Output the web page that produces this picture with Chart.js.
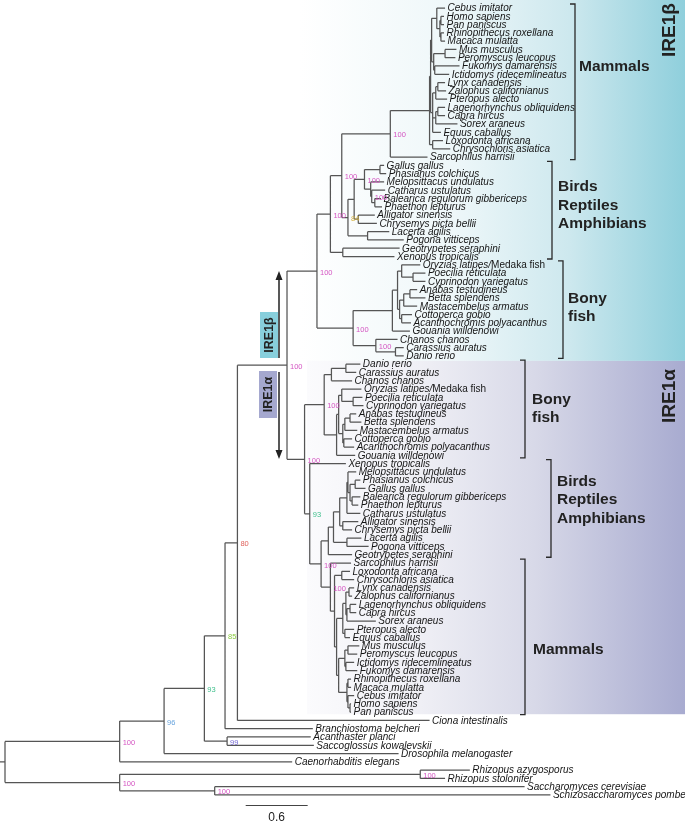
<!DOCTYPE html>
<html>
<head>
<meta charset="utf-8">
<script src="https://cdn.jsdelivr.net/npm/chart.js@4.4.1/dist/chart.umd.min.js"></script>
<style>
  html, body { margin: 0; padding: 0; background: #fff; }
  canvas { display: block; }
</style>
</head>
<body>
<canvas id="chart" width="685" height="825"></canvas>
<script>
// Tree. x = distance from the root (scale bar units).
// leaf: [name, x]    internal node: [x, bootstrap, [children]]
const ire1bMammals = [3.73, "100", [
  [4.11, "", [
    [4.12, "", [
      [4.13, "", [
        [4.18, "", [
          ["Cebus imitator", 4.26],
          [4.21, "", [
            [4.22, "", [["Homo sapiens", 4.25], ["Pan paniscus", 4.25]]],
            [4.22, "", [["Rhinopithecus roxellana", 4.25], ["Macaca mulatta", 4.26]]]
          ]]
        ]],
        [4.15, "", [
          [4.26, "", [["Mus musculus", 4.37], ["Peromyscus leucopus", 4.36]]],
          [4.16, "", [["Fukomys damarensis", 4.40], ["Ictidomys ridecemlineatus", 4.30]]]
        ]]
      ]],
      [4.14, "", [
        [4.17, "", [
          [4.19, "", [["Lynx canadensis", 4.26], ["Zalophus californianus", 4.27]]],
          ["Pteropus alecto", 4.28]
        ]],
        [4.17, "", [
          [4.19, "", [["Lagenorhynchus obliquidens", 4.26], ["Capra hircus", 4.26]]],
          ["Sorex araneus", 4.38]
        ]],
        ["Equus caballus", 4.22]
      ]]
    ]],
    [4.14, "", [["Loxodonta africana", 4.24], ["Chrysochloris asiatica", 4.31]]]
  ]],
  ["Sarcophilus harrisii", 4.09]
]];

const ire1bSauropsids = [3.32, "84", [
  [3.38, "", [
    [3.48, "100", [
      [3.63, "", [["Gallus gallus", 3.67], ["Phasianus colchicus", 3.69]]],
      [3.54, "", [
        ["Melopsittacus undulatus", 3.67],
        [3.55, "100", [
          ["Catharus ustulatus", 3.68],
          [3.58, "", [["Balearica regulorum gibbericeps", 3.64], ["Phaethon lepturus", 3.65]]]
        ]]
      ]]
    ]],
    [3.42, "", [["Alligator sinensis", 3.58], ["Chrysemys picta bellii", 3.60]]]
  ]],
  [3.51, "", [["Lacerta agilis", 3.72], ["Pogona vitticeps", 3.86]]]
]];

const ire1bAmphibians = [3.27, "", [["Geotrypetes seraphini", 3.82], ["Xenopus tropicalis", 3.77]]];

const ire1bFish = [3.37, "100", [
  [3.75, "", [
    [3.80, "", [
      [3.84, "", [
        ["Oryzias latipes/Medaka fish", 4.02],
        [3.95, "", [["Poecilia reticulata", 4.07], ["Cyprinodon variegatus", 4.07]]]
      ]],
      [3.82, "", [
        [3.86, "", [
          [3.92, "", [["Anabas testudineus", 3.99], ["Betta splendens", 4.07]]],
          ["Mastacembelus armatus", 3.99]
        ]],
        [3.84, "", [["Cottoperca gobio", 3.94], ["Acanthochromis polyacanthus", 3.93]]]
      ]]
    ]],
    ["Gouania willdenowi", 3.92]
  ]],
  [3.59, "100", [
    ["Chanos chanos", 3.80],
    [3.78, "", [["Carassius auratus", 3.86], ["Danio rerio", 3.86]]]
  ]]
]];

const ire1aFish = [3.09, "100", [
  [3.16, "", [
    [3.30, "", [["Danio rerio", 3.44], ["Carassius auratus", 3.40]]],
    ["Chanos chanos", 3.36]
  ]],
  [3.21, "", [
    [3.23, "", [
      [3.26, "", [
        ["Oryzias latipes/Medaka fish", 3.45],
        [3.37, "", [["Poecilia reticulata", 3.46], ["Cyprinodon variegatus", 3.47]]]
      ]],
      [3.27, "", [
        [3.29, "", [
          [3.34, "", [["Anabas testudineus", 3.40], ["Betta splendens", 3.45]]],
          ["Mastacembelus armatus", 3.41]
        ]],
        [3.28, "", [["Cottoperca gobio", 3.36], ["Acanthochromis polyacanthus", 3.38]]]
      ]]
    ]],
    ["Gouania willdenowi", 3.39]
  ]]
]];

const ire1aSauropsids = [3.18, "", [
  [3.24, "", [
    [3.31, "", [
      [3.32, "", [
        ["Melopsittacus undulatus", 3.40],
        [3.34, "", [
          [3.39, "", [["Phasianus colchicus", 3.44], ["Gallus gallus", 3.49]]],
          [3.36, "", [["Balearica regulorum gibbericeps", 3.44], ["Phaethon lepturus", 3.42]]]
        ]]
      ]],
      ["Catharus ustulatus", 3.44]
    ]],
    [3.27, "", [["Alligator sinensis", 3.42], ["Chrysemys picta bellii", 3.36]]]
  ]],
  [3.31, "", [["Lacerta agilis", 3.45], ["Pogona vitticeps", 3.52]]]
]];

const ire1aMammals = [3.15, "100", [
  ["Sarcophilus harrisii", 3.35],
  [3.19, "", [
    [3.26, "", [["Loxodonta africana", 3.34], ["Chrysochloris asiatica", 3.38]]],
    [3.21, "", [
      [3.27, "", [
        [3.30, "", [
          [3.33, "", [["Lynx canadensis", 3.38], ["Zalophus californianus", 3.36]]],
          [3.31, "", [
            [3.34, "", [["Lagenorhynchus obliquidens", 3.40], ["Capra hircus", 3.40]]],
            ["Sorex araneus", 3.59]
          ]]
        ]],
        [3.29, "", [["Pteropus alecto", 3.38], ["Equus caballus", 3.34]]]
      ]],
      [3.23, "", [
        [3.29, "", [
          [3.32, "", [["Mus musculus", 3.43], ["Peromyscus leucopus", 3.41]]],
          [3.30, "", [["Ictidomys ridecemlineatus", 3.38], ["Fukomys damarensis", 3.41]]]
        ]],
        [3.31, "", [
          [3.32, "", [["Rhinopithecus roxellana", 3.35], ["Macaca mulatta", 3.35]]],
          [3.32, "", [
            ["Cebus imitator", 3.38],
            [3.34, "", [["Homo sapiens", 3.35], ["Pan paniscus", 3.35]]]
          ]]
        ]]
      ]]
    ]]
  ]]
]];

const ire1b = [3.02, "100", [
  [3.15, "100", [[3.26, "100", [ire1bMammals, ire1bSauropsids]], ire1bAmphibians]],
  ire1bFish
]];

const ire1a = [2.90, "100", [
  ire1aFish,
  [2.95, "93", [
    ["Xenopus tropicalis", 3.30],
    [3.06, "100", [[3.13, "", [ire1aSauropsids, ["Geotrypetes seraphini", 3.36]]], ire1aMammals]]
  ]]
]];

const metazoa = [1.11, "100", [
  [1.54, "96", [
    [1.93, "93", [
      [2.13, "85", [
        [2.25, "80", [
          [2.73, "100", [ire1b, ire1a]],
          ["Ciona intestinalis", 4.11]
        ]],
        ["Branchiostoma belcheri", 2.98]
      ]],
      [2.15, "99", [["Acanthaster planci", 2.96], ["Saccoglossus kowalevskii", 2.99]]]
    ]],
    ["Drosophila melanogaster", 3.81]
  ]],
  ["Caenorhabditis elegans", 2.78]
]];

const fungi = [1.11, "100", [
  [4.02, "100", [["Rhizopus azygosporus", 4.50], ["Rhizopus stolonifer", 4.26]]],
  [2.03, "100", [["Saccharomyces cerevisiae", 5.03], ["Schizosaccharomyces pombe", 5.28]]]
]];

const treeRoot = [0, "", [metazoa, fungi]];
const scaleBarLength = 0.6;

const bootColors = {
  "100": "#d455c2", "99": "#7468d4", "96": "#68a4de", "93": "#3fbf8c",
  "85": "#8ccc42", "84": "#d6b23e", "80": "#df625c"
};

// --- lay the tree out: leaves get consecutive rows, nodes sit midway ---
const segs = [], leaves = [], boots = [];
function build(node, parentX) {
  if (typeof node[0] === "string") {
    const y = leaves.length;
    leaves.push({ name: node[0], x: node[1], y });
    segs.push({ x: parentX, y }, { x: node[1], y }, { x: node[1], y: null });
    return y;
  }
  const [x, boot, kids] = node;
  const ys = kids.map(k => build(k, x));
  const y0 = ys[0], y1 = ys[ys.length - 1], y = (y0 + y1) / 2;
  segs.push({ x, y: y0 }, { x, y: y1 }, { x, y: null });
  segs.push({ x: parentX, y }, { x, y }, { x, y: null });
  if (boot) boots.push({ text: boot, x, y });
  return y;
}
build(treeRoot, -0.05);

// annotation layout (pixels / row units)
const cladeMarks = [
  { from: 0, to: 18, x: 575, dx: 4, textRow: 7.1, lines: ["Mammals"] },
  { from: 19, to: 30, x: 552, dx: 6, textRow: 21.6, lines: ["Birds", "Reptiles", "Amphibians"] },
  { from: 31, to: 42, x: 563, dx: 5, textRow: 35.1, lines: ["Bony", "fish"] },
  { from: 43, to: 54, x: 525, dx: 7, textRow: 47.3, lines: ["Bony", "fish"] },
  { from: 55, to: 66, x: 551, dx: 6, textRow: 57.2, lines: ["Birds", "Reptiles", "Amphibians"] },
  { from: 67, to: 85, x: 525, dx: 8, textRow: 77.5, lines: ["Mammals"] }
];

const decor = {
  id: "decor",
  beforeDatasetsDraw(chart) {
    const ctx = chart.ctx, ys = chart.scales.y;
    const yb = ys.getPixelForValue(42.6), ya = ys.getPixelForValue(85.25);
    ctx.save();
    let g = ctx.createLinearGradient(300, 0, 685, 0);
    g.addColorStop(0, "#ffffff");
    g.addColorStop(0.4, "#eef7f9");
    g.addColorStop(0.7, "#cde8ee");
    g.addColorStop(1, "#8fcfdc");
    ctx.fillStyle = g;
    ctx.fillRect(300, 0, 385, yb);
    g = ctx.createLinearGradient(307, 0, 685, 0);
    g.addColorStop(0, "#fbfbfd");
    g.addColorStop(0.3, "#efeff5");
    g.addColorStop(0.6, "#d8d9e8");
    g.addColorStop(1, "#a8abd0");
    ctx.fillStyle = g;
    ctx.fillRect(307, yb, 378, ya - yb);
    ctx.restore();
  },
  afterDatasetsDraw(chart) {
    const ctx = chart.ctx, xs = chart.scales.x, ys = chart.scales.y;
    ctx.save();
    // leaf names
    ctx.textBaseline = "middle";
    ctx.fillStyle = "#151515";
    leaves.forEach(l => {
      const px = xs.getPixelForValue(l.x) + 2.5, py = ys.getPixelForValue(l.y) + 0.5;
      const parts = l.name.split("/");
      ctx.font = "italic 10px 'Liberation Sans', Arial, sans-serif";
      if (parts.length > 1) {
        const a = parts[0] + "/";
        ctx.fillText(a, px, py);
        const w = ctx.measureText(a).width;
        ctx.font = "10px 'Liberation Sans', Arial, sans-serif";
        ctx.fillText(parts[1], px + w, py);
      } else {
        ctx.fillText(l.name, px, py);
      }
    });
    // bootstrap values
    ctx.font = "7.5px 'Liberation Sans', Arial, sans-serif";
    boots.forEach(b => {
      ctx.fillStyle = bootColors[b.text] || "#d455c2";
      ctx.fillText(b.text, xs.getPixelForValue(b.x) + 3, ys.getPixelForValue(b.y) + 1.5);
    });
    // clade brackets and names
    ctx.strokeStyle = "#2a2a2a";
    ctx.lineWidth = 1.3;
    ctx.fillStyle = "#222";
    ctx.font = "bold 15.5px 'Liberation Sans', Arial, sans-serif";
    cladeMarks.forEach(m => {
      const t = ys.getPixelForValue(m.from) - 4, b = ys.getPixelForValue(m.to) + 2.5;
      ctx.beginPath();
      ctx.moveTo(m.x - 5, t); ctx.lineTo(m.x, t); ctx.lineTo(m.x, b); ctx.lineTo(m.x - 5, b);
      ctx.stroke();
      const ty = ys.getPixelForValue(m.textRow);
      m.lines.forEach((s, i) => ctx.fillText(s, m.x + m.dx, ty + i * 18.3));
    });
    // big side labels
    const vText = (s, x, y, font) => {
      ctx.save();
      ctx.translate(x, y);
      ctx.rotate(-Math.PI / 2);
      ctx.font = font;
      ctx.textAlign = "center";
      ctx.fillText(s, 0, 0);
      ctx.restore();
    };
    ctx.fillStyle = "#222";
    vText("IRE1\u03b2", 670, 30, "bold 19px 'Liberation Sans', Arial, sans-serif");
    vText("IRE1\u03b1", 670, 396, "bold 19px 'Liberation Sans', Arial, sans-serif");
    // small boxed labels with arrows
    ctx.fillStyle = "#88cfdc";
    ctx.fillRect(260, 312, 18, 46);
    ctx.fillStyle = "#a5a8cf";
    ctx.fillRect(259, 371, 18, 47);
    ctx.fillStyle = "#222";
    vText("IRE1\u03b2", 269.5, 335, "bold 12.5px 'Liberation Sans', Arial, sans-serif");
    vText("IRE1\u03b1", 268.5, 394.5, "bold 12.5px 'Liberation Sans', Arial, sans-serif");
    ctx.strokeStyle = "#222";
    ctx.lineWidth = 1.5;
    ctx.beginPath();
    ctx.moveTo(279, 358); ctx.lineTo(279, 278);
    ctx.moveTo(279, 372); ctx.lineTo(279, 452);
    ctx.stroke();
    ctx.beginPath();
    ctx.moveTo(279, 271); ctx.lineTo(275.5, 280); ctx.lineTo(282.5, 280); ctx.closePath();
    ctx.moveTo(279, 459); ctx.lineTo(275.5, 450); ctx.lineTo(282.5, 450); ctx.closePath();
    ctx.fill();
    // scale bar
    const s0 = xs.getPixelForValue(2.33), s1 = xs.getPixelForValue(2.33 + scaleBarLength);
    ctx.strokeStyle = "#444";
    ctx.lineWidth = 1.2;
    ctx.beginPath();
    ctx.moveTo(s0, 805.5); ctx.lineTo(s1, 805.5);
    ctx.stroke();
    ctx.font = "12px 'Liberation Sans', Arial, sans-serif";
    ctx.textAlign = "center";
    ctx.fillStyle = "#222";
    ctx.fillText(String(scaleBarLength), (s0 + s1) / 2, 818);
    ctx.restore();
  }
};

const config = {
  type: "scatter",
  data: {
    datasets: [{
      data: segs,
      showLine: true,
      borderColor: "#555",
      borderWidth: 1.25,
      pointRadius: 0,
      pointHoverRadius: 0,
      spanGaps: false,
      clip: false
    }]
  },
  options: {
    responsive: false,
    animation: false,
    events: [],
    layout: { padding: 0, autoPadding: false },
    plugins: { legend: { display: false }, tooltip: { enabled: false } },
    scales: {
      x: { type: "linear", display: false, min: -5 / 103.3, max: 680 / 103.3 },
      y: { type: "linear", display: false, reverse: true, min: -8 / 8.284, max: 817 / 8.284 }
    }
  },
  plugins: [decor]
};

window.onload = function () {
  window.tree = new Chart(document.getElementById("chart"), config);
};
</script>
</body>
</html>
